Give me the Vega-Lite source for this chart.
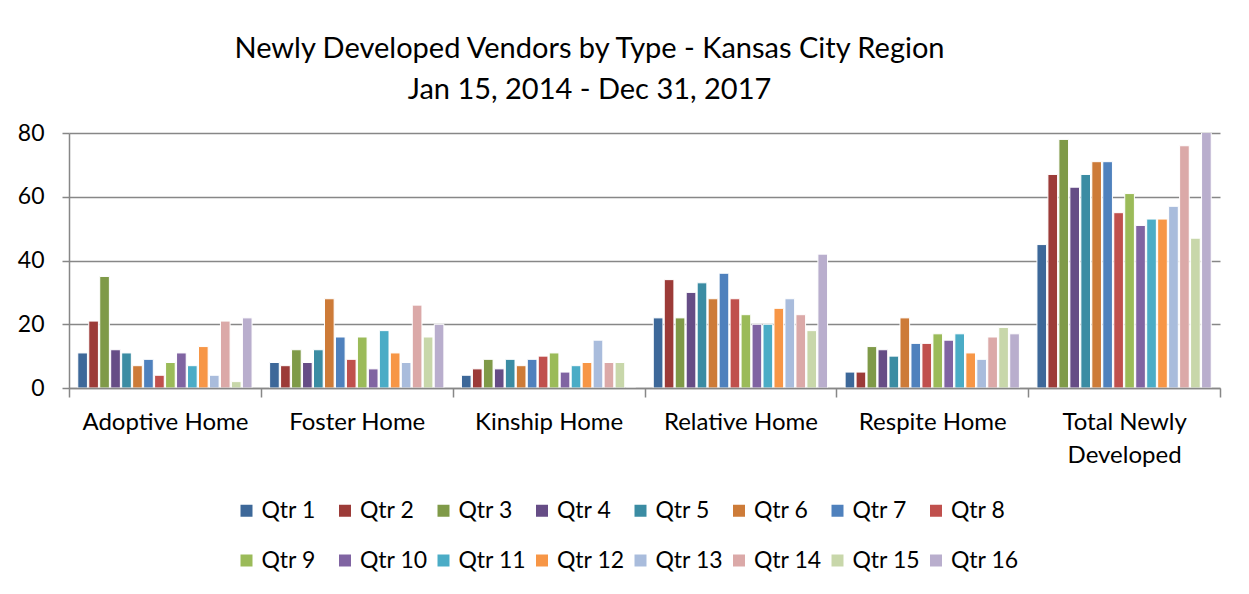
{
  "$schema": "https://vega.github.io/schema/vega-lite/v6.json",
  "width": 1151,
  "height": 255,
  "autosize": {"type": "none"},
  "padding": {"left": 69, "top": 133, "right": 29, "bottom": 206},
  "background": "white",
  "config": {"view": {"stroke": null}, "font": "Lato"},
  "title": {
    "text": ["Newly Developed Vendors by Type - Kansas City Region", "Jan 15, 2014 - Dec 31, 2017"],
    "font": "Lato",
    "fontSize": 29,
    "fontWeight": "normal",
    "color": "#000000",
    "lineHeight": 41,
    "anchor": "middle",
    "dx": -55,
    "offset": 17
  },
  "datasets": {
    "vendors": [
      {"type": "Adoptive Home", "qtr": "Qtr 1", "value": 11},
      {"type": "Adoptive Home", "qtr": "Qtr 2", "value": 21},
      {"type": "Adoptive Home", "qtr": "Qtr 3", "value": 35},
      {"type": "Adoptive Home", "qtr": "Qtr 4", "value": 12},
      {"type": "Adoptive Home", "qtr": "Qtr 5", "value": 11},
      {"type": "Adoptive Home", "qtr": "Qtr 6", "value": 7},
      {"type": "Adoptive Home", "qtr": "Qtr 7", "value": 9},
      {"type": "Adoptive Home", "qtr": "Qtr 8", "value": 4},
      {"type": "Adoptive Home", "qtr": "Qtr 9", "value": 8},
      {"type": "Adoptive Home", "qtr": "Qtr 10", "value": 11},
      {"type": "Adoptive Home", "qtr": "Qtr 11", "value": 7},
      {"type": "Adoptive Home", "qtr": "Qtr 12", "value": 13},
      {"type": "Adoptive Home", "qtr": "Qtr 13", "value": 4},
      {"type": "Adoptive Home", "qtr": "Qtr 14", "value": 21},
      {"type": "Adoptive Home", "qtr": "Qtr 15", "value": 2},
      {"type": "Adoptive Home", "qtr": "Qtr 16", "value": 22},
      {"type": "Foster Home", "qtr": "Qtr 1", "value": 8},
      {"type": "Foster Home", "qtr": "Qtr 2", "value": 7},
      {"type": "Foster Home", "qtr": "Qtr 3", "value": 12},
      {"type": "Foster Home", "qtr": "Qtr 4", "value": 8},
      {"type": "Foster Home", "qtr": "Qtr 5", "value": 12},
      {"type": "Foster Home", "qtr": "Qtr 6", "value": 28},
      {"type": "Foster Home", "qtr": "Qtr 7", "value": 16},
      {"type": "Foster Home", "qtr": "Qtr 8", "value": 9},
      {"type": "Foster Home", "qtr": "Qtr 9", "value": 16},
      {"type": "Foster Home", "qtr": "Qtr 10", "value": 6},
      {"type": "Foster Home", "qtr": "Qtr 11", "value": 18},
      {"type": "Foster Home", "qtr": "Qtr 12", "value": 11},
      {"type": "Foster Home", "qtr": "Qtr 13", "value": 8},
      {"type": "Foster Home", "qtr": "Qtr 14", "value": 26},
      {"type": "Foster Home", "qtr": "Qtr 15", "value": 16},
      {"type": "Foster Home", "qtr": "Qtr 16", "value": 20},
      {"type": "Kinship Home", "qtr": "Qtr 1", "value": 4},
      {"type": "Kinship Home", "qtr": "Qtr 2", "value": 6},
      {"type": "Kinship Home", "qtr": "Qtr 3", "value": 9},
      {"type": "Kinship Home", "qtr": "Qtr 4", "value": 6},
      {"type": "Kinship Home", "qtr": "Qtr 5", "value": 9},
      {"type": "Kinship Home", "qtr": "Qtr 6", "value": 7},
      {"type": "Kinship Home", "qtr": "Qtr 7", "value": 9},
      {"type": "Kinship Home", "qtr": "Qtr 8", "value": 10},
      {"type": "Kinship Home", "qtr": "Qtr 9", "value": 11},
      {"type": "Kinship Home", "qtr": "Qtr 10", "value": 5},
      {"type": "Kinship Home", "qtr": "Qtr 11", "value": 7},
      {"type": "Kinship Home", "qtr": "Qtr 12", "value": 8},
      {"type": "Kinship Home", "qtr": "Qtr 13", "value": 15},
      {"type": "Kinship Home", "qtr": "Qtr 14", "value": 8},
      {"type": "Kinship Home", "qtr": "Qtr 15", "value": 8},
      {"type": "Kinship Home", "qtr": "Qtr 16", "value": 0},
      {"type": "Relative Home", "qtr": "Qtr 1", "value": 22},
      {"type": "Relative Home", "qtr": "Qtr 2", "value": 34},
      {"type": "Relative Home", "qtr": "Qtr 3", "value": 22},
      {"type": "Relative Home", "qtr": "Qtr 4", "value": 30},
      {"type": "Relative Home", "qtr": "Qtr 5", "value": 33},
      {"type": "Relative Home", "qtr": "Qtr 6", "value": 28},
      {"type": "Relative Home", "qtr": "Qtr 7", "value": 36},
      {"type": "Relative Home", "qtr": "Qtr 8", "value": 28},
      {"type": "Relative Home", "qtr": "Qtr 9", "value": 23},
      {"type": "Relative Home", "qtr": "Qtr 10", "value": 20},
      {"type": "Relative Home", "qtr": "Qtr 11", "value": 20},
      {"type": "Relative Home", "qtr": "Qtr 12", "value": 25},
      {"type": "Relative Home", "qtr": "Qtr 13", "value": 28},
      {"type": "Relative Home", "qtr": "Qtr 14", "value": 23},
      {"type": "Relative Home", "qtr": "Qtr 15", "value": 18},
      {"type": "Relative Home", "qtr": "Qtr 16", "value": 42},
      {"type": "Respite Home", "qtr": "Qtr 1", "value": 5},
      {"type": "Respite Home", "qtr": "Qtr 2", "value": 5},
      {"type": "Respite Home", "qtr": "Qtr 3", "value": 13},
      {"type": "Respite Home", "qtr": "Qtr 4", "value": 12},
      {"type": "Respite Home", "qtr": "Qtr 5", "value": 10},
      {"type": "Respite Home", "qtr": "Qtr 6", "value": 22},
      {"type": "Respite Home", "qtr": "Qtr 7", "value": 14},
      {"type": "Respite Home", "qtr": "Qtr 8", "value": 14},
      {"type": "Respite Home", "qtr": "Qtr 9", "value": 17},
      {"type": "Respite Home", "qtr": "Qtr 10", "value": 15},
      {"type": "Respite Home", "qtr": "Qtr 11", "value": 17},
      {"type": "Respite Home", "qtr": "Qtr 12", "value": 11},
      {"type": "Respite Home", "qtr": "Qtr 13", "value": 9},
      {"type": "Respite Home", "qtr": "Qtr 14", "value": 16},
      {"type": "Respite Home", "qtr": "Qtr 15", "value": 19},
      {"type": "Respite Home", "qtr": "Qtr 16", "value": 17},
      {"type": "Total Newly Developed", "qtr": "Qtr 1", "value": 45},
      {"type": "Total Newly Developed", "qtr": "Qtr 2", "value": 67},
      {"type": "Total Newly Developed", "qtr": "Qtr 3", "value": 78},
      {"type": "Total Newly Developed", "qtr": "Qtr 4", "value": 63},
      {"type": "Total Newly Developed", "qtr": "Qtr 5", "value": 67},
      {"type": "Total Newly Developed", "qtr": "Qtr 6", "value": 71},
      {"type": "Total Newly Developed", "qtr": "Qtr 7", "value": 71},
      {"type": "Total Newly Developed", "qtr": "Qtr 8", "value": 55},
      {"type": "Total Newly Developed", "qtr": "Qtr 9", "value": 61},
      {"type": "Total Newly Developed", "qtr": "Qtr 10", "value": 51},
      {"type": "Total Newly Developed", "qtr": "Qtr 11", "value": 53},
      {"type": "Total Newly Developed", "qtr": "Qtr 12", "value": 53},
      {"type": "Total Newly Developed", "qtr": "Qtr 13", "value": 57},
      {"type": "Total Newly Developed", "qtr": "Qtr 14", "value": 76},
      {"type": "Total Newly Developed", "qtr": "Qtr 15", "value": 47},
      {"type": "Total Newly Developed", "qtr": "Qtr 16", "value": 81}
    ]
  },
  "data": {"name": "vendors"},
  "mark": {"type": "bar", "stroke": "white", "strokeWidth": 1, "clip": true},
  "encoding": {
    "x": {
      "field": "type",
      "type": "nominal",
      "sort": null,
      "title": null,
      "scale": {"paddingInner": 0, "paddingOuter": 0},
      "axis": {
        "zindex": 1,
        "labelAngle": 0,
        "labelFont": "Lato",
        "labelFontSize": 24,
        "labelColor": "#000000",
        "labelPadding": 13,
        "labelLineHeight": 33,
        "labelExpr": "datum.value == 'Total Newly Developed' ? ['Total Newly', 'Developed'] : datum.value",
        "labelLimit": 300,
        "tickBand": "extent",
        "tickSize": 9,
        "tickColor": "#878787",
        "tickWidth": 1.5,
        "domainColor": "#878787",
        "domainWidth": 1.5,
        "grid": false
      }
    },
    "xOffset": {
      "field": "qtr",
      "type": "nominal",
      "sort": ["Qtr 1", "Qtr 2", "Qtr 3", "Qtr 4", "Qtr 5", "Qtr 6", "Qtr 7", "Qtr 8", "Qtr 9", "Qtr 10", "Qtr 11", "Qtr 12", "Qtr 13", "Qtr 14", "Qtr 15", "Qtr 16"],
      "scale": {"paddingInner": 0.12, "paddingOuter": 0.8}
    },
    "y": {
      "field": "value",
      "type": "quantitative",
      "title": null,
      "scale": {"domain": [0, 80], "nice": false},
      "axis": {
        "values": [0, 20, 40, 60, 80],
        "labelFont": "Lato",
        "labelFontSize": 23,
        "labelColor": "#000000",
        "labelPadding": 18,
        "tickSize": 7,
        "tickColor": "#878787",
        "tickWidth": 1.5,
        "domainColor": "#878787",
        "domainWidth": 1.5,
        "gridColor": "#878787",
        "gridWidth": 1.5
      }
    },
    "color": {
      "field": "qtr",
      "type": "nominal",
      "scale": {
        "domain": ["Qtr 1", "Qtr 2", "Qtr 3", "Qtr 4", "Qtr 5", "Qtr 6", "Qtr 7", "Qtr 8", "Qtr 9", "Qtr 10", "Qtr 11", "Qtr 12", "Qtr 13", "Qtr 14", "Qtr 15", "Qtr 16"],
        "range": ["#3d6899", "#9c3b38", "#7f9a48", "#664d86", "#3b8ca3", "#cd7b38", "#4f81bd", "#c0504d", "#9bbb59", "#8064a2", "#4bacc6", "#f79646", "#a9bcdc", "#dba9a8", "#c8d7aa", "#b9aecd"]
      },
      "legend": {
        "title": null,
        "orient": "none",
        "legendX": 166,
        "legendY": 366,
        "direction": "horizontal",
        "columns": 8,
        "gridAlign": "all",
        "padding": 0,
        "symbolType": "square",
        "symbolSize": 144,
        "symbolStrokeWidth": 0,
        "labelFont": "Lato",
        "labelFontSize": 23,
        "labelColor": "#000000",
        "labelOffset": 3.5,
        "columnPadding": 3.5,
        "rowPadding": 26
      }
    }
  }
}
